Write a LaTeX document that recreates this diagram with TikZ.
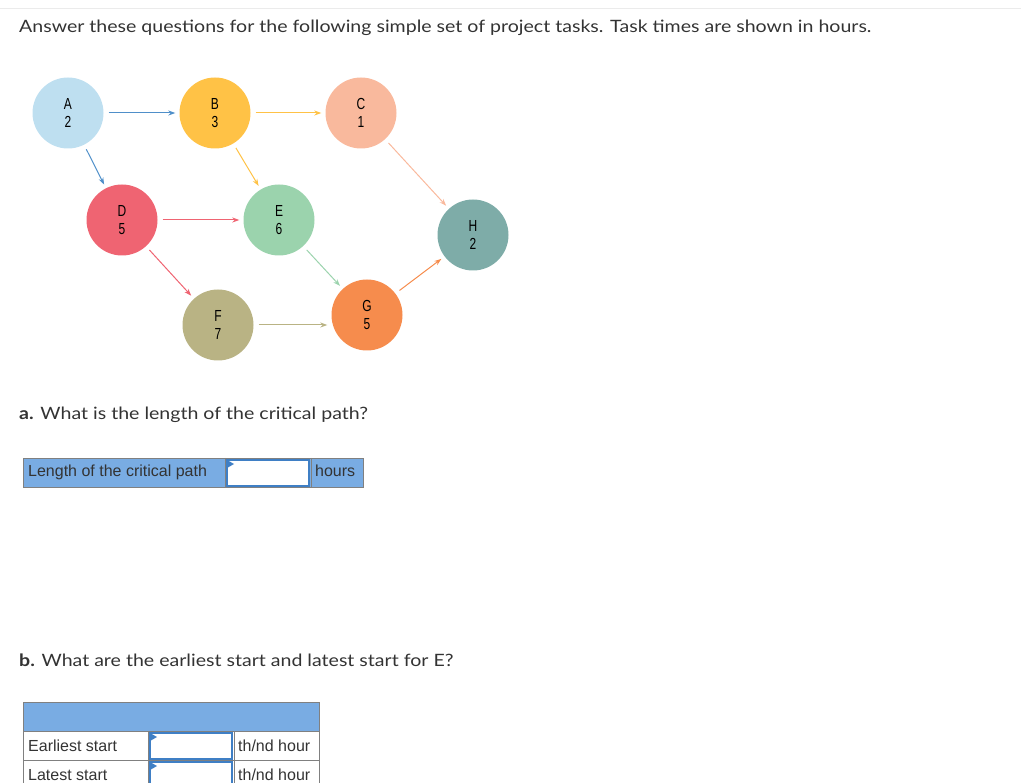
\documentclass[tikz,border=0pt]{standalone}
\usepackage{fontspec}
\setmainfont[FakeStretch=1.15]{Lato}
\newfontfamily\formfont{Liberation Sans}
\newfontfamily\taskfont[FakeStretch=0.75]{Liberation Sans}
\usetikzlibrary{arrows.meta}

\definecolor{fillA}{HTML}{BEDFF0}
\definecolor{lineA}{HTML}{4F8FC9}
\definecolor{fillB}{HTML}{FFC246}
\definecolor{fillC}{HTML}{F9B99D}
\definecolor{fillD}{HTML}{EF6472}
\definecolor{fillE}{HTML}{9BD3AD}
\definecolor{fillF}{HTML}{B9B384}
\definecolor{fillG}{HTML}{F68C4D}
\definecolor{fillH}{HTML}{7EACA8}
\definecolor{formblue}{HTML}{79ACE3}
\definecolor{boxblue}{HTML}{3F7FC5}
\definecolor{formgray}{HTML}{808080}
\definecolor{prose}{HTML}{333333}

\tikzset{
  task/.style={circle, fill=#1, minimum size=71pt, inner sep=0pt, align=center,
    font=\taskfont\fontsize{16}{18}\selectfont},
  link/.style={draw=#1, line width=1pt, -{Stealth[length=7pt,width=5pt]},
    shorten <=5pt, shorten >=4pt},
  question/.style={anchor=base west, inner sep=0pt, text=prose,
    font=\fontsize{17}{20}\selectfont},
  cell/.style={anchor=base west, inner sep=0pt, text=prose,
    font=\formfont\fontsize{16}{19}\selectfont},
  inbox/.style={draw=boxblue, line width=1.3pt, fill=white},
}

\begin{document}
\begin{tikzpicture}
  [x=1pt, y=-1pt]
  \useasboundingbox (0,0) rectangle (1021,783);
  \draw[black!8] (0,8) -- (1021,8);

  \node[question] (intro) at (19,33) {Answer these questions for the following simple set of project tasks. Task times are shown in hours.};

  % network of tasks
  \node[task=fillA] (a) at (68,113) {A\\2};
  \node[task=fillB] (b) at (215,113) {B\\3};
  \node[task=fillC] (c) at (361,113) {C\\1};
  \node[task=fillD] (d) at (122,220) {D\\5};
  \node[task=fillE] (e) at (279,220) {E\\6};
  \node[task=fillH] (h) at (473,235) {H\\2};
  \node[task=fillF] (f) at (218,325) {F\\7};
  \node[task=fillG] (g) at (367,315) {G\\5};

  \foreach \from/\to/\col in {a/b/lineA,a/d/lineA,b/c/fillB,b/e/fillB,c/h/fillC,
      d/e/fillD,d/f/fillD,e/g/fillE,g/h/fillG}
  \draw[link=\col] (\from) -- (\to);
  \draw[link=fillF] (f) -- (f -| g.west);

  % part a
  \node[question] (qa) at (19,420) {\textbf{a.} What is the length of the critical path?};
  \fill[formblue] (23,458) rectangle (363,487);
  \draw[inbox] (227,460) rectangle (309,486);
  \fill[boxblue] (227,460) -- (234,464) -- (227,468) -- cycle;
  \draw[formgray] (23,458) rectangle (363,487) (225,458) -- (225,487) (311,458) -- (311,487);
  \node[cell] (lenlabel) at (28,477) {Length of the critical path};
  \node[cell] (lenunit) at (315,477) {hours};

  % part b
  \node[question] (qb) at (19,666) {\textbf{b.} What are the earliest start and latest start for E?};
  \fill[formblue] (23,702) rectangle (319,731);
  \draw[inbox] (150,733) rectangle (232,759);
  \draw[inbox] (150,762) rectangle (232,790);
  \fill[boxblue] (150,733) -- (157,737) -- (150,741) -- cycle;
  \fill[boxblue] (150,762) -- (157,766) -- (150,770) -- cycle;
  \draw[formgray] (23,790) -- (23,702) -- (319,702) -- (319,790)
    (23,731) -- (319,731) (23,760) -- (319,760)
    (148,731) -- (148,790) (234,731) -- (234,790);
  \node[cell] (eslabel) at (28,751) {Earliest start};
  \node[cell] (esunit) at (238,751) {th/nd hour};
  \node[cell] (lslabel) at (28,780) {Latest start};
  \node[cell] (lsunit) at (238,780) {th/nd hour};
\end{tikzpicture}
\end{document}
